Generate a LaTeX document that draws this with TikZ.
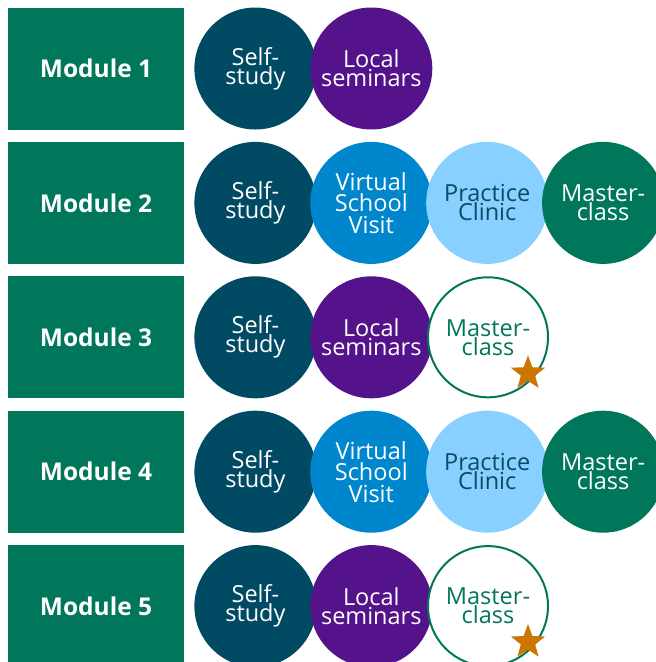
\documentclass[tikz,border=0pt]{standalone}
\usepackage{fontspec}
\setmainfont{Open Sans}
\usetikzlibrary{positioning, shapes.geometric}

\definecolor{modgreen}{HTML}{00775A}
\definecolor{selfteal}{HTML}{004B63}
\definecolor{localpurple}{HTML}{54138A}
\definecolor{visitblue}{HTML}{0086CD}
\definecolor{clinicblue}{HTML}{88D0FF}
\definecolor{clinictext}{HTML}{0A4A66}
\definecolor{starorange}{HTML}{CC7500}

\begin{document}
\begin{tikzpicture}[x=1pt, y=-1pt, node distance=12pt,
	module/.style={rectangle, fill=modgreen, text=white, minimum width=176pt, minimum height=122pt, font=\fontsize{24.5}{24}\selectfont\bfseries},
	event/.style={circle, minimum size=122pt, inner sep=0pt, align=center, font=\fontsize{23.5}{19}\selectfont},
	selfstudy/.style={event, fill=selfteal, text=white},
	seminar/.style={event, fill=localpurple, text=white},
	visit/.style={event, fill=visitblue, text=white, font=\fontsize{23.5}{21.5}\selectfont},
	clinic/.style={event, fill=clinicblue, text=clinictext},
	master/.style={event, fill=modgreen, text=white},
	masteropen/.style={event, draw=modgreen, line width=2pt, fill=white, text=modgreen, minimum size=120pt},
	badge/.style={star, star points=5, star point ratio=2.4, fill=starorange, minimum size=36pt, inner sep=0pt}]
	\useasboundingbox (0,0) rectangle (656,662);
	\clip (0,0) rectangle (656,662);

	% module boxes
	\node[module] (mod1) at (96,68.5)    {Module 1};
	\node[module] (mod2) [below=of mod1] {Module 2};
	\node[module] (mod3) [below=of mod2] {Module 3};
	\node[module] (mod4) [below=of mod3] {Module 4};
	\node[module] (mod5) [below=of mod4] {Module 5};

	% module 1
	\node[selfstudy] (self1)  [right=10pt of mod1]    {Self-\\study};
	\node[seminar]   (local1) [right=-6.5pt of self1] {Local\\seminars};

	% module 2
	\node[selfstudy] (self2)   [right=10pt of mod2]      {Self-\\study};
	\node[visit]     (visit2)  [right=-6.5pt of self2]   {Virtual\\School\\Visit};
	\node[clinic]    (clinic2) [right=-6.5pt of visit2]  {Practice\\Clinic};
	\node[master]    (mc2)     [right=-6.5pt of clinic2] {Master-\\class};

	% module 3
	\node[selfstudy]  (self3)  [right=10pt of mod3]     {Self-\\study};
	\node[seminar]    (local3) [right=-6.5pt of self3]  {Local\\seminars};
	\node[masteropen] (mc3)    [right=-5.5pt of local3] {Master-\\class};
	\node[badge]      (star3)  at ([shift={(40,36)}]mc3) {};

	% module 4
	\node[selfstudy] (self4)   [right=10pt of mod4]      {Self-\\study};
	\node[visit]     (visit4)  [right=-6.5pt of self4]   {Virtual\\School\\Visit};
	\node[clinic]    (clinic4) [right=-6.5pt of visit4]  {Practice\\Clinic};
	\node[master]    (mc4)     [right=-6.5pt of clinic4] {Master-\\class};

	% module 5
	\node[selfstudy]  (self5)  [right=10pt of mod5]     {Self-\\study};
	\node[seminar]    (local5) [right=-6.5pt of self5]  {Local\\seminars};
	\node[masteropen] (mc5)    [right=-5.5pt of local5] {Master-\\class};
	\node[badge]      (star5)  at ([shift={(40,36)}]mc5) {};
\end{tikzpicture}
\end{document}
